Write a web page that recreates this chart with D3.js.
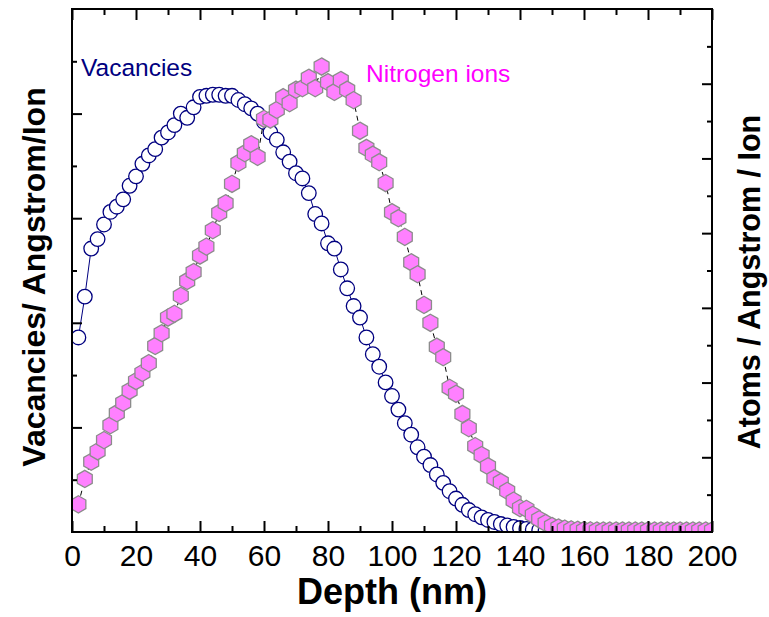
<!DOCTYPE html>
<html>
<head>
<meta charset="utf-8">
<script src="https://cdn.jsdelivr.net/npm/d3@7"></script>
<style>
  html, body { margin: 0; padding: 0; background: #fff; }
  svg { display: block; }
  text { font-family: "Liberation Sans", Arial, sans-serif; }
</style>
</head>
<body>
<svg id="chart" width="769" height="617"></svg>
<script>
// ---------------- data ----------------
const depth = [2,4,6,8,10,12,14,16,18,20,22,24,26,28,30,32,34,36,38,40,
  42,44,46,48,50,52,54,56,58,60,62,64,66,68,70,72,74,76,78,80,
  82,84,86,88,90,92,94,96,98,100,102,104,106,108,110,112,114,116,118,120,
  122,124,126,128,130,132,134,136,138,140,142,144,146,148,150,152,154,156,158,160,
  162,164,166,168,170,172,174,176,178,180,182,184,186,188,190,192,194,196,198,200];

const vacancies = [1.86,2.25,2.71,2.80,2.94,3.06,3.11,3.18,3.31,3.40,
  3.52,3.60,3.66,3.77,3.82,3.89,4.00,3.96,4.06,4.16,
  4.17,4.18,4.18,4.17,4.17,4.13,4.09,4.05,4.00,3.92,
  3.82,3.75,3.63,3.54,3.43,3.38,3.24,3.04,2.95,2.76,
  2.71,2.51,2.33,2.16,2.05,1.86,1.70,1.58,1.43,1.30,
  1.17,1.04,0.93,0.81,0.72,0.64,0.55,0.47,0.39,0.32,
  0.26,0.21,0.17,0.14,0.115,0.096,0.076,0.062,0.048,0.038,
  0.029,0.024,0.019,0.014,0.010,0.007,0.005,0.004,0.003,0.002,
  0.002,0.001,0.001,0.001,0.001,0.001,0.001,0.001,0.001,0.001,
  0,0,0,0,0,0,0,0,0,0];

const nitrogen = [0.37,0.71,0.94,1.08,1.23,1.43,1.59,1.73,1.89,2.02,
  2.13,2.26,2.49,2.66,2.87,2.92,3.16,3.36,3.48,3.70,
  3.82,4.04,4.27,4.40,4.66,4.94,5.07,5.19,5.02,5.53,
  5.52,5.65,5.82,5.74,5.92,5.94,6.08,5.94,6.23,6.02,
  5.89,6.05,5.92,5.78,5.37,5.14,5.05,4.95,4.67,4.28,
  4.20,3.95,3.61,3.45,3.04,2.80,2.48,2.34,1.93,1.85,
  1.58,1.39,1.15,1.03,0.88,0.72,0.67,0.55,0.42,0.32,
  0.31,0.23,0.17,0.12,0.08,0.06,0.045,0.035,0.03,0.025,
  0.022,0.02,0.02,0.02,0.02,0.02,0.02,0.02,0.02,0.02,
  0.02,0.02,0.02,0.02,0.02,0.02,0.02,0.02,0.02,0.02];

const xMajorTicks = [0,20,40,60,80,100,120,140,160,180,200];
const xMinorTicks = [10,30,50,70,90,110,130,150,170,190];
const yLeftMajor = [1,2,3,4];
const yLeftMinor = [0.5,1.5,2.5,3.5,4.5];
const yRightMajor = [1,2,3,4,5,6];
const yRightMinor = [0.5,1.5,2.5,3.5,4.5,5.5,6.5];

// ---------------- layout ----------------
const L = 72, R = 712, T = 9, B = 532;
const svg = d3.select("#chart");

const x = d3.scaleLinear().domain([0, 200]).range([L, R]);
const yL = d3.scaleLinear().domain([0, 5]).range([B, T]);
const yR = d3.scaleLinear().domain([0, 7]).range([B, T]);

// clip
svg.append("defs").append("clipPath").attr("id", "plotclip")
  .append("rect").attr("x", L).attr("y", T).attr("width", R - L).attr("height", B - T);

const plot = svg.append("g").attr("clip-path", "url(#plotclip)");

const vacData = depth.map((d, i) => [d, vacancies[i]]);
const nitData = depth.map((d, i) => [d, nitrogen[i]]);

// vacancies line + circles
plot.append("path")
  .datum(vacData)
  .attr("fill", "none").attr("stroke", "#000080").attr("stroke-width", 1)
  .attr("d", d3.line().x(d => x(d[0])).y(d => yL(d[1])));

plot.selectAll("circle.vac").data(vacData).enter().append("circle")
  .attr("class", "vac")
  .attr("cx", d => x(d[0])).attr("cy", d => yL(d[1]))
  .attr("r", 7.3)
  .attr("fill", "#fff").attr("stroke", "#000080").attr("stroke-width", 1.3);

// nitrogen line (dashed) + hexagons
plot.append("path")
  .datum(nitData)
  .attr("fill", "none").attr("stroke", "#000").attr("stroke-width", 1)
  .attr("stroke-dasharray", "5,4")
  .attr("d", d3.line().x(d => x(d[0])).y(d => yR(d[1])));

const hexR = 8.6;
const hexPts = d3.range(6).map(k => {
  const a = Math.PI / 180 * (60 * k - 90);
  return [hexR * Math.cos(a), hexR * Math.sin(a)];
});
const hexPath = "M" + hexPts.map(p => p[0].toFixed(2) + "," + p[1].toFixed(2)).join("L") + "Z";

plot.selectAll("path.nit").data(nitData).enter().append("path")
  .attr("class", "nit")
  .attr("transform", d => `translate(${x(d[0])},${yR(d[1])})`)
  .attr("d", hexPath)
  .attr("fill", "#ff80ff").attr("stroke", "#8c8c8c").attr("stroke-width", 1.3);

// ---------------- axes ----------------
function styleAxis(g) {
  g.select(".domain").remove();
  g.selectAll(".tick line").attr("stroke", "#000").attr("stroke-width", 2);
}

// bottom
svg.append("g").attr("transform", `translate(0,${B})`)
  .call(d3.axisBottom(x).tickValues(xMajorTicks).tickSize(-11).tickPadding(13).tickFormat(d3.format("d")))
  .call(styleAxis)
  .call(g => g.selectAll("text").attr("font-size", 30).attr("fill", "#000")
      .attr("font-family", "'Liberation Sans', Arial, sans-serif"));
svg.append("g").attr("transform", `translate(0,${B})`)
  .call(d3.axisBottom(x).tickValues(xMinorTicks).tickSize(-6).tickFormat(""))
  .call(styleAxis);
// top
svg.append("g").attr("transform", `translate(0,${T})`)
  .call(d3.axisTop(x).tickValues(xMajorTicks).tickSize(-11).tickFormat(""))
  .call(styleAxis);
svg.append("g").attr("transform", `translate(0,${T})`)
  .call(d3.axisTop(x).tickValues(xMinorTicks).tickSize(-6).tickFormat(""))
  .call(styleAxis);
// left
svg.append("g").attr("transform", `translate(${L},0)`)
  .call(d3.axisLeft(yL).tickValues(yLeftMajor).tickSize(-10).tickFormat(""))
  .call(styleAxis);
svg.append("g").attr("transform", `translate(${L},0)`)
  .call(d3.axisLeft(yL).tickValues(yLeftMinor).tickSize(-5).tickFormat(""))
  .call(styleAxis);
// right
svg.append("g").attr("transform", `translate(${R},0)`)
  .call(d3.axisRight(yR).tickValues(yRightMajor).tickSize(-10).tickFormat(""))
  .call(styleAxis);
svg.append("g").attr("transform", `translate(${R},0)`)
  .call(d3.axisRight(yR).tickValues(yRightMinor).tickSize(-5).tickFormat(""))
  .call(styleAxis);

// frame
svg.append("rect")
  .attr("x", L).attr("y", T).attr("width", R - L).attr("height", B - T)
  .attr("fill", "none").attr("stroke", "#000").attr("stroke-width", 2);

// ---------------- titles ----------------
svg.append("text")
  .attr("x", (L + R) / 2).attr("y", 604)
  .attr("text-anchor", "middle")
  .attr("font-size", 36).attr("font-weight", "bold").attr("fill", "#000")
  .text("Depth (nm)");

svg.append("text")
  .attr("transform", "translate(45,277) rotate(-90)")
  .attr("text-anchor", "middle")
  .attr("font-size", 32).attr("font-weight", "bold").attr("fill", "#000")
  .text("Vacancies/ Angstrom/Ion");

svg.append("text")
  .attr("transform", "translate(760,282) rotate(-90)")
  .attr("text-anchor", "middle")
  .attr("font-size", 30.5).attr("font-weight", "bold").attr("fill", "#000")
  .text("Atoms / Angstrom / Ion");

// series labels
svg.append("text")
  .attr("x", 81).attr("y", 76)
  .attr("font-size", 24.5).attr("fill", "#000080")
  .text("Vacancies");

svg.append("text")
  .attr("x", 366).attr("y", 82)
  .attr("font-size", 24.5).attr("fill", "#ff00ff")
  .text("Nitrogen ions");
</script>
</body>
</html>
